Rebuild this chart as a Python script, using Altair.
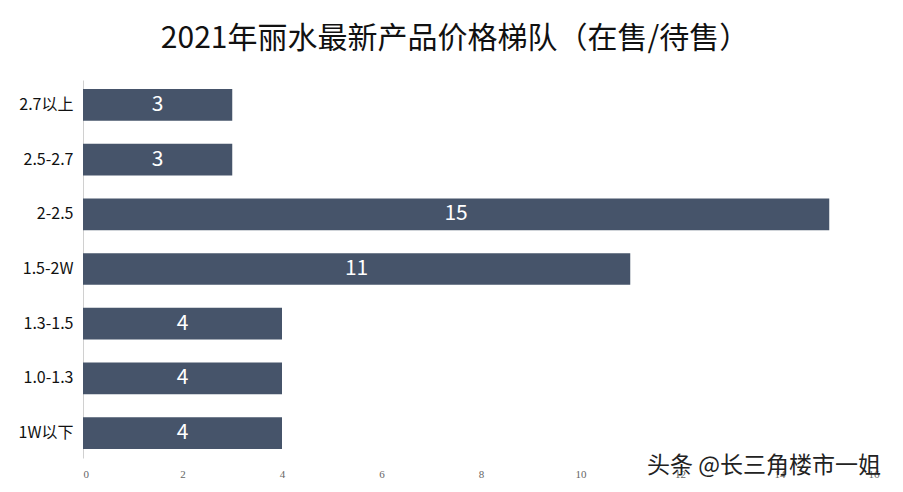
import altair as alt
import pandas as pd

categories = ["2.7以上", "2.5-2.7", "2-2.5", "1.5-2W", "1.3-1.5", "1.0-1.3", "1W以下"]
counts = [3, 3, 15, 11, 4, 4, 4]
x_ticks = [0, 2, 4, 6, 8, 10, 12, 14, 16]

df = pd.DataFrame({"cat": categories, "n": counts})

CJK = "Noto Sans CJK SC"

base = alt.Chart(df).encode(
    y=alt.Y("cat:N", sort=categories, title=None,
            scale=alt.Scale(paddingInner=0.42, paddingOuter=0.165),
            axis=alt.Axis(labelFont=CJK, labelFontSize=16, labelColor="#111",
                          ticks=False, labelPadding=10, domainColor="#d0d0d0",
                          domainWidth=1)),
    x=alt.X("n:Q", title=None,
            scale=alt.Scale(domain=[0, 16], nice=False),
            axis=alt.Axis(values=x_ticks, grid=False, ticks=False, domain=False,
                          labelFont="Liberation Sans Narrow", labelFontSize=11,
                          labelColor="#666", labelPadding=10)),
)

bars = base.mark_bar(color="#46546A")
labels = base.mark_text(color="white", fontSize=21, font=CJK, baseline="middle").encode(
    x=alt.X("mid:Q"), text="n:Q"
).transform_calculate(mid="datum.n / 2")

watermark = alt.Chart(pd.DataFrame({"t": ["头条 @长三角楼市一姐"]})).mark_text(
    font=CJK, fontSize=23, color="#222", align="right", baseline="middle"
).encode(x=alt.value(798), y=alt.value(386), text="t:N")

chart = alt.layer(bars, labels, watermark).properties(
    width=796, height=378,
    autosize=alt.AutoSizeParams(type="none"),
    padding={"left": 75, "top": 72, "right": 16, "bottom": 26},
    title=alt.TitleParams("2021年丽水最新产品价格梯队（在售/待售）", font=CJK,
                          fontSize=30, fontWeight="normal", color="#111",
                          anchor="middle", dx=-26, offset=26),
).configure_view(stroke=None)

chart.save("out.html", embed_options={"renderer": "svg", "actions": False})
